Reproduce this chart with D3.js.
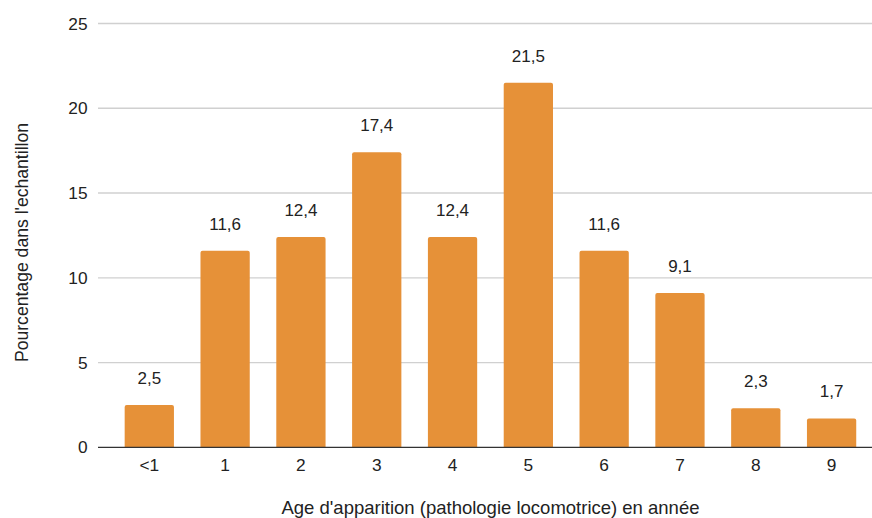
<!DOCTYPE html>
<html>
<head>
<meta charset="utf-8">
<script src="https://cdn.jsdelivr.net/npm/d3@7"></script>
<style>
  html, body { margin: 0; padding: 0; background: #fff; }
  svg { display: block; }
  text { font-family: Arial, "Liberation Sans", sans-serif; }
</style>
</head>
<body>
<svg id="chart" width="872" height="518"></svg>
<script>
const categories = ["<1", "1", "2", "3", "4", "5", "6", "7", "8", "9"];
const values = [2.5, 11.6, 12.4, 17.4, 12.4, 21.5, 11.6, 9.1, 2.3, 1.7];
const yTicks = [0, 5, 10, 15, 20, 25];
const xTitle = "Age d'apparition (pathologie locomotrice) en année";
const yTitle = "Pourcentage dans l'echantillon";

const svg = d3.select("#chart");
const fontSize = 17.3;
const textColor = "#222222";
const barColor = "#e69138";

const x = d3.scaleBand().domain(categories).range([111.4, 869.5]).paddingInner(0.35).paddingOuter(0.175);
const y = d3.scaleLinear().domain([0, 25]).range([447.3, 23.5]);

const gridLeft = 98, gridRight = 872;

// gridlines
svg.append("g").selectAll("line").data(yTicks.filter(d => d !== 0)).join("line")
  .attr("x1", gridLeft).attr("x2", gridRight)
  .attr("y1", d => y(d)).attr("y2", d => y(d))
  .attr("stroke", "#d0d0d0").attr("stroke-width", 1.3);

// y tick labels
svg.append("g").selectAll("text").data(yTicks).join("text")
  .attr("x", 87.5).attr("y", d => y(d)).attr("dy", "0.35em")
  .attr("text-anchor", "end").attr("font-size", fontSize).attr("fill", textColor)
  .text(d => d);

// bars with slightly rounded top corners
const r = 2;
svg.append("g").selectAll("path").data(values).join("path")
  .attr("fill", barColor)
  .attr("d", (d, i) => {
    const x0 = x(categories[i]), w = x.bandwidth(), yt = y(d), yb = y(0);
    return `M${x0},${yb}V${yt + r}Q${x0},${yt} ${x0 + r},${yt}H${x0 + w - r}Q${x0 + w},${yt} ${x0 + w},${yt + r}V${yb}Z`;
  });

// baseline
svg.append("line").attr("x1", gridLeft).attr("x2", gridRight)
  .attr("y1", y(0)).attr("y2", y(0)).attr("stroke", "#333333").attr("stroke-width", 1.3);

// value labels
svg.append("g").selectAll("text").data(values).join("text")
  .attr("x", (d, i) => x(categories[i]) + x.bandwidth() / 2)
  .attr("y", d => y(d) - 21)
  .attr("text-anchor", "middle").attr("font-size", 17).attr("fill", textColor)
  .text(d => String(d).replace(".", ","));

// x tick labels
svg.append("g").selectAll("text").data(categories).join("text")
  .attr("x", d => x(d) + x.bandwidth() / 2).attr("y", 471)
  .attr("text-anchor", "middle").attr("font-size", fontSize).attr("fill", textColor)
  .text(d => d);

// axis titles
svg.append("text").attr("x", 490.5).attr("y", 514)
  .attr("text-anchor", "middle").attr("font-size", 18.5).attr("fill", textColor)
  .text(xTitle);

svg.append("text").attr("transform", "translate(28,242.5) rotate(-90)")
  .attr("text-anchor", "middle").attr("font-size", 17.6).attr("fill", textColor)
  .text(yTitle);
</script>
</body>
</html>
